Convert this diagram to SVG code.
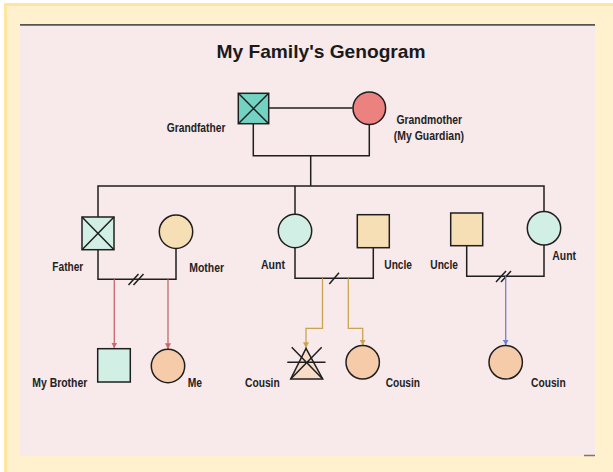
<svg xmlns="http://www.w3.org/2000/svg" width="613" height="472" viewBox="0 0 613 472">
<defs>
<style>
.nd{stroke:#1f1f1f;stroke-width:1.5}
.ln{fill:none;stroke:#1f1f1f;stroke-width:1.5}
.lbl{font-family:"Liberation Sans",Arial,sans-serif;font-weight:bold;font-size:12.5px;fill:#222}
.ttl{font-family:"Liberation Sans",Arial,sans-serif;font-weight:bold;font-size:19px;fill:#1a1a1a}
</style>
<marker id="arR" viewBox="0 0 6 6" refX="6" refY="3" markerWidth="6" markerHeight="6" orient="auto" markerUnits="userSpaceOnUse"><path d="M0,0 L6,3 L0,6 z" fill="#c9686e"/></marker>
<marker id="arG" viewBox="0 0 6 6" refX="6" refY="3" markerWidth="6" markerHeight="6" orient="auto" markerUnits="userSpaceOnUse"><path d="M0,0 L6,3 L0,6 z" fill="#c9a455"/></marker>
<marker id="arB" viewBox="0 0 6 6" refX="6" refY="3" markerWidth="6" markerHeight="6" orient="auto" markerUnits="userSpaceOnUse"><path d="M0,0 L6,3 L0,6 z" fill="#6f82d2"/></marker>
</defs>
<rect x="5.5" y="4.5" width="620" height="480" fill="#fff1cd" stroke="#ffe59e" stroke-width="3"/>
<rect x="20" y="24" width="575" height="432" fill="#f8e9ea"/>
<line x1="20" y1="24.8" x2="595" y2="24.8" stroke="#555" stroke-width="1.8"/>
<line x1="584" y1="455.5" x2="595" y2="455.5" stroke="#777" stroke-width="1.5"/>
<text class="ttl" x="321" y="58" text-anchor="middle" textLength="209" lengthAdjust="spacingAndGlyphs">My Family's Genogram</text>

<g id="connectors">
<polyline class="ln" points="268.7,108 352.7,108"/>
<polyline class="ln" points="253.3,123.7 253.3,155.7 369.3,155.7 369.3,124.6"/>
<line class="ln" x1="310.7" y1="155.7" x2="310.7" y2="186"/>
<polyline class="ln" points="98,217 98,186 544,186 544,211.6"/>
<line class="ln" x1="295" y1="186" x2="295" y2="214.3"/>
<polyline class="ln" points="98,249.7 98,279.3 176,279.3 176,248.4"/>
<path class="ln" d="M128.5,285 L138.5,274 M133.5,285 L143.5,274"/>
<polyline class="ln" points="295,247.7 295,278.3 373.3,278.3 373.3,247.7"/>
<path class="ln" d="M329.3,284 L339,272.7"/>
<polyline class="ln" points="466.7,245.7 466.7,276.3 544,276.3 544,245"/>
<path class="ln" d="M496,282 L506,271 M501,282 L511,271"/>
<line x1="114.3" y1="279.3" x2="114.3" y2="348.5" stroke="#c9686e" stroke-width="1.3" marker-end="url(#arR)"/>
<line x1="168" y1="279.3" x2="168" y2="349.3" stroke="#c9686e" stroke-width="1.3" marker-end="url(#arR)"/>
<polyline points="322.5,278.3 322.5,328.3 306,328.3 306,348.3" fill="none" stroke="#c9a455" stroke-width="1.3" marker-end="url(#arG)"/>
<polyline points="348.3,278.3 348.3,328.3 362.7,328.3 362.7,345.6" fill="none" stroke="#c9a455" stroke-width="1.3" marker-end="url(#arG)"/>
<line x1="505.7" y1="276.3" x2="505.7" y2="345.6" stroke="#6f82d2" stroke-width="1.3" marker-end="url(#arB)"/>
</g>

<g id="grandfather">
<rect class="nd" x="238.3" y="93.3" width="30.4" height="30.4" fill="#72d3c3"/>
<path class="ln" d="M238.3,93.3 L268.7,123.7 M268.7,93.3 L238.3,123.7"/>
<text class="lbl" x="166.8" y="131.7" textLength="58.6" lengthAdjust="spacingAndGlyphs">Grandfather</text>
</g>
<g id="grandmother">
<circle class="nd" cx="369.3" cy="108.3" r="16.3" fill="#eb827f"/>
<text class="lbl" x="396.5" y="124" textLength="65.5" lengthAdjust="spacingAndGlyphs">Grandmother</text>
<text class="lbl" x="393.8" y="140" textLength="70.2" lengthAdjust="spacingAndGlyphs">(My Guardian)</text>
</g>
<g id="father">
<rect class="nd" x="82" y="217" width="32" height="32.7" fill="#d2efe6"/>
<path class="ln" d="M82,217 L114,249.7 M114,217 L82,249.7"/>
<text class="lbl" x="52.3" y="271" textLength="31" lengthAdjust="spacingAndGlyphs">Father</text>
</g>
<g id="mother">
<circle class="nd" cx="176" cy="231.7" r="16.7" fill="#f7dfb5"/>
<text class="lbl" x="189.3" y="271.5" textLength="34.7" lengthAdjust="spacingAndGlyphs">Mother</text>
</g>
<g id="aunt1">
<circle class="nd" cx="295" cy="231" r="16.7" fill="#d2efe6"/>
<text class="lbl" x="261" y="269" textLength="24" lengthAdjust="spacingAndGlyphs">Aunt</text>
</g>
<g id="uncle1">
<rect class="nd" x="357.3" y="214.7" width="32" height="33" fill="#f7dfb5"/>
<text class="lbl" x="384.3" y="269.3" textLength="27.7" lengthAdjust="spacingAndGlyphs">Uncle</text>
</g>
<g id="uncle2">
<rect class="nd" x="450.7" y="213" width="32" height="32.7" fill="#f7dfb5"/>
<text class="lbl" x="430.3" y="269.3" textLength="27.7" lengthAdjust="spacingAndGlyphs">Uncle</text>
</g>
<g id="aunt2">
<circle class="nd" cx="544" cy="228.3" r="16.7" fill="#d2efe6"/>
<text class="lbl" x="552.3" y="260" textLength="23.7" lengthAdjust="spacingAndGlyphs">Aunt</text>
</g>
<g id="brother">
<rect class="nd" x="97.7" y="348.7" width="32.6" height="33.3" fill="#d2efe6"/>
<text class="lbl" x="32.3" y="386.7" textLength="55" lengthAdjust="spacingAndGlyphs">My Brother</text>
</g>
<g id="me">
<circle class="nd" cx="168" cy="366" r="16.7" fill="#f5cbaa"/>
<text class="lbl" x="187.7" y="386.7" textLength="14.3" lengthAdjust="spacingAndGlyphs">Me</text>
</g>
<g id="cousin1">
<polygon class="nd" points="306,348.3 322.7,379 290.7,379" fill="#f8dcc8"/>
<path class="ln" d="M291.7,347.3 L322.7,379 M321.7,347.3 L290.7,379 M287.3,362.3 L325.5,362.3"/>
<text class="lbl" x="245" y="386.7" textLength="34.7" lengthAdjust="spacingAndGlyphs">Cousin</text>
</g>
<g id="cousin2">
<circle class="nd" cx="362.7" cy="362.3" r="16.7" fill="#f5cbaa"/>
<text class="lbl" x="385.7" y="386.7" textLength="34.3" lengthAdjust="spacingAndGlyphs">Cousin</text>
</g>
<g id="cousin3">
<circle class="nd" cx="505.7" cy="362.3" r="16.7" fill="#f5cbaa"/>
<text class="lbl" x="531" y="386.7" textLength="34.7" lengthAdjust="spacingAndGlyphs">Cousin</text>
</g>
</svg>
